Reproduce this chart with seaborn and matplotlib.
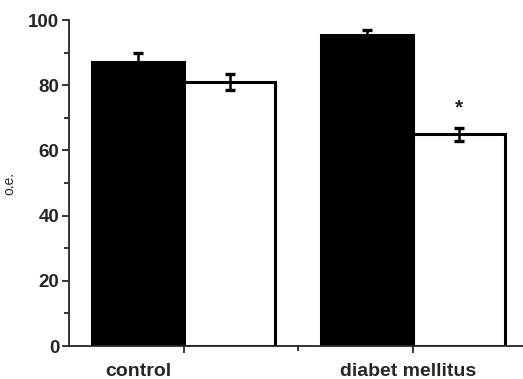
import numpy as np
import pandas as pd
import matplotlib
matplotlib.use("Agg")
import matplotlib.pyplot as plt
import seaborn as sns
from matplotlib.ticker import MultipleLocator, FixedLocator

# data
groups = ['control', 'diabet mellitus']
conditions = ['A', 'B']
values_a = [87, 95.5]
values_b = [81, 65]
errors_a = [3, 1.5]
errors_b = [2.5, 2]
stars_b = ['', '*']

podaci = pd.DataFrame({
    'group': groups * 2,
    'condition': [conditions[0]] * 2 + [conditions[1]] * 2,
    'value': values_a + values_b,
})

sns.set_style('white')
plt.rcParams['font.family'] = ['Liberation Sans', 'DejaVu Sans']

fig = plt.figure(figsize=(5.23, 3.79), dpi=100)
ax = fig.add_axes([0.132, 0.087, 0.868, 0.86])

sns.barplot(data=podaci, x='group', y='value', hue='condition', order=groups,
            hue_order=conditions, palette=['black', 'white'], errorbar=None,
            edgecolor='black', linewidth=2.2, width=0.8, legend=False, ax=ax)

# error bars and star marks on top of the bars
for cont, errs, stars in zip(ax.containers, [errors_a, errors_b], [['', ''], stars_b]):
    for bar, e, s in zip(cont, errs, stars):
        xc = bar.get_x() + bar.get_width() / 2
        h = bar.get_height()
        ax.errorbar(xc, h, yerr=e, color='black', capsize=3.5, capthick=2.4,
                    elinewidth=1.8, zorder=5)
        if s:
            ax.text(xc, h + e + 3.2, s, ha='center', va='bottom', fontsize=15,
                    fontweight='bold')

ax.set_xlim(-0.5, 1.48)
ax.set_ylim(0, 100)
ax.yaxis.set_major_locator(MultipleLocator(20))
ax.yaxis.set_minor_locator(MultipleLocator(10))
ax.xaxis.set_minor_locator(FixedLocator([0.5]))
ax.tick_params(axis='both', which='major', direction='out', length=5, width=1.3,
               labelsize=13.5, bottom=True, left=True)
ax.tick_params(axis='both', which='minor', direction='out', length=3.5, width=1.3,
               bottom=True, left=True)
ax.tick_params(axis='y', pad=2)
for lab in ax.get_yticklabels():
    lab.set_fontweight('bold')

# group labels under the axis
ax.set_xticks([0, 1])
ax.set_xticklabels(['', ''])
label_pos = [-0.2, 0.98]
for xp, g in zip(label_pos, groups):
    ax.text(xp, -5.2, g, ha='center', va='top', fontsize=14, fontweight='bold')

ax.set_xlabel('')
ax.set_ylabel('o.e.', fontsize=10)
ax.yaxis.set_label_coords(-0.115, 0.5)

ax.spines['top'].set_visible(False)
ax.spines['right'].set_visible(False)
ax.spines['left'].set_linewidth(1.3)
ax.spines['bottom'].set_linewidth(1.3)

fig.savefig('out.png', dpi=100)
